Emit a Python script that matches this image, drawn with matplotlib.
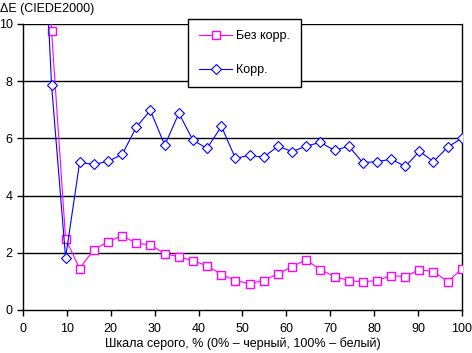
import matplotlib
matplotlib.use("Agg")
import matplotlib.pyplot as plt

x_pct = [3.2, 6.5, 9.7, 12.9, 16.1, 19.4, 22.6, 25.8, 29.0, 32.3, 35.5, 38.7, 41.9,
         45.2, 48.4, 51.6, 54.8, 58.1, 61.3, 64.5, 67.7, 71.0, 74.2, 77.4, 80.6,
         83.9, 87.1, 90.3, 93.5, 96.8, 100.0]
bez_korr = [40.0, 9.77, 2.49, 1.45, 2.11, 2.39, 2.60, 2.33, 2.28, 1.97, 1.86, 1.72, 1.55,
            1.24, 1.03, 0.92, 1.03, 1.27, 1.51, 1.76, 1.41, 1.17, 1.03, 0.99, 1.03,
            1.20, 1.17, 1.41, 1.34, 0.99, 1.45]
korr = [18.5, 7.87, 1.83, 5.16, 5.09, 5.20, 5.44, 6.39, 6.98, 5.76, 6.88, 5.94, 5.65,
        6.42, 5.30, 5.41, 5.34, 5.73, 5.54, 5.73, 5.86, 5.58, 5.73, 5.15, 5.19,
        5.27, 5.02, 5.55, 5.19, 5.70, 6.01]
x_ticks = [0, 10, 20, 30, 40, 50, 60, 70, 80, 90, 100]
y_ticks = [0, 2, 4, 6, 8, 10]
labels = ["Без корр.", "Корр."]
y_title = "ΔE (CIEDE2000)"
x_title = "Шкала серого, % (0% – черный, 100% – белый)"

plt.rcParams['font.family'] = ['Liberation Sans', 'DejaVu Sans']
plt.rcParams['font.size'] = 9

fig = plt.figure(figsize=(4.72, 3.53), dpi=100)
ax = fig.add_axes([23/472, 1-310/353, (462-23)/472, (310-24)/353])

ax.plot(x_pct, bez_korr, color='#FF00FF', lw=0.8, marker='s', ms=5.2,
        mfc='white', mec='#FF00FF', mew=1.0, label=labels[0], zorder=3)
ax.plot(x_pct, korr, color='#0000FF', lw=0.8, marker='D', ms=5,
        mfc='white', mec='#0000FF', mew=0.8, label=labels[1], zorder=4)

ax.set_xlim(0, 100)
ax.set_ylim(0, 10)
ax.set_xticks(x_ticks)
ax.set_yticks(y_ticks)
for y in y_ticks[1:]:
    ax.axhline(y, color='black', lw=1.0, zorder=1)
ax.spines['top'].set_visible(False)
for s in ['left', 'bottom', 'right']:
    ax.spines[s].set_linewidth(1.0)
    ax.spines[s].set_color('black')
ax.tick_params(axis='both', direction='out', length=4, width=1.0, labelsize=9, pad=5)
ax.tick_params(axis='y', pad=3.5)

ax.set_xlabel(x_title, fontsize=9, labelpad=2)
fig.text(0.0, 1-9/353, y_title, fontsize=9, ha='left', va='center')

leg = ax.legend(loc='upper left', bbox_to_anchor=((188-23)/439, 1+5/286),
                frameon=True, fancybox=False, edgecolor='black', framealpha=1,
                fontsize=9, borderpad=0.9, labelspacing=1.74, handlelength=2.64,
                handletextpad=0.32, borderaxespad=0)
leg.get_frame().set_linewidth(1.0)

fig.savefig("out.png", dpi=100)
